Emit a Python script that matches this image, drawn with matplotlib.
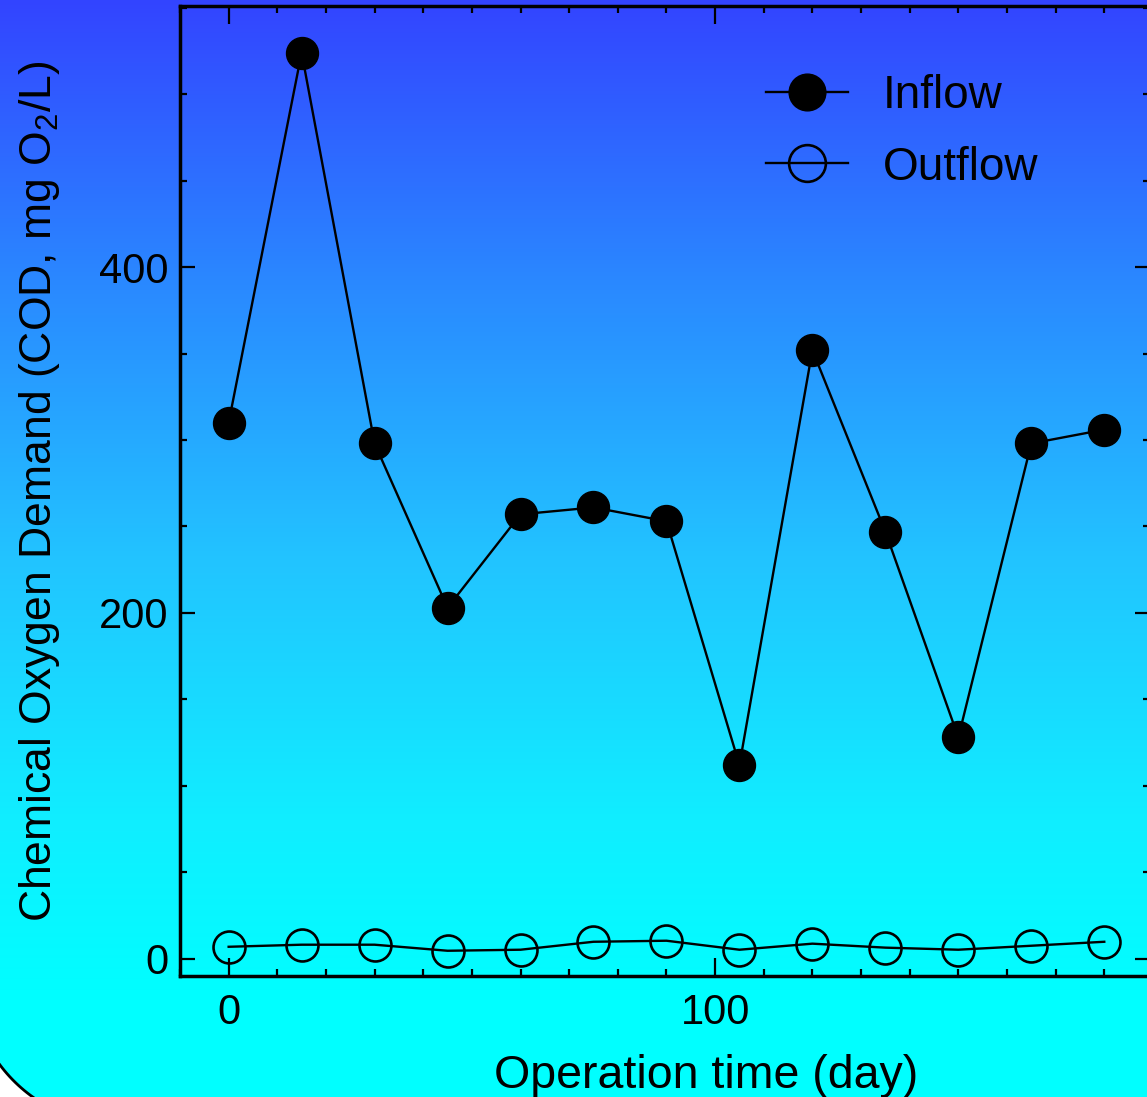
import numpy as np
import matplotlib
matplotlib.use("Agg")
import matplotlib.pyplot as plt
from matplotlib.patches import PathPatch
from matplotlib.path import Path
from matplotlib.ticker import MultipleLocator

plt.rcParams['font.family'] = ['Liberation Sans', 'DejaVu Sans']
plt.rcParams['mathtext.fontset'] = 'custom'
plt.rcParams['mathtext.rm'] = 'Liberation Sans'

# datos
dias = [0, 15, 30, 45, 60, 75, 90, 105, 120, 135, 150, 165, 180]
cod_entrada = [310, 524, 298, 203, 257, 261, 253, 112, 352, 247, 128, 298, 306]
cod_salida = [6.9, 8.1, 8.1, 4.6, 5.2, 9.8, 10.4, 5.2, 8.7, 6.4, 5.2, 7.5, 9.8]

W, H = 1147, 1097
fig = plt.figure(figsize=(W / 100, H / 100), dpi=100)
fig.patch.set_facecolor('white')

# fondo degradado con esquina redondeada (pixeles, y hacia arriba)
bg = fig.add_axes([0, 0, 1, 1], zorder=-1)
bg.axis('off')
ys = np.arange(H + 100)
stops_y = [0, 280, 560, 820, 1000]
stops_c = np.array([[0x33, 0x44, 0xFF], [0x2A, 0x88, 0xFF], [0x22, 0xC4, 0xFF],
                    [0x10, 0xEE, 0xFF], [0x00, 0xFF, 0xFF]]) / 255.0
grad = np.stack([np.interp(ys, stops_y, stops_c[:, i]) for i in range(3)], axis=1)
grad = grad[:, None, :]

x0, y0, r = -30, -28, 150
ang = np.linspace(np.pi, 1.5 * np.pi, 60)
arco = np.column_stack([x0 + r + r * np.cos(ang), y0 + r + r * np.sin(ang)])
verts = np.vstack([[[x0, 3000]], arco, [[3000, y0], [3000, 3000], [x0, 3000]]])
caja = PathPatch(Path(verts, closed=True), facecolor='none', edgecolor='black', linewidth=2)
bg.add_patch(caja)
im = bg.imshow(grad, extent=(-50, W + 50, -100, H), origin='upper', aspect='auto',
               interpolation='bilinear')
im.set_clip_path(caja)
bg.set_xlim(0, W)
bg.set_ylim(0, H)

ax = fig.add_axes([180 / W, (H - 976) / H, 970 / W, 970 / H])
ax.patch.set_alpha(0)

ax.plot(dias, cod_entrada, color='black', linewidth=1.7, marker='o', markersize=23,
        markerfacecolor='black', markeredgecolor='black', label='Inflow')
ax.plot(dias, cod_salida, color='black', linewidth=1.7, marker='o', markersize=23,
        markerfacecolor='none', markeredgecolor='black', markeredgewidth=1.9, label='Outflow')

ax.set_xlim(-10, 189.4)
ax.set_ylim(-10, 551)
ax.xaxis.set_major_locator(MultipleLocator(100))
ax.xaxis.set_minor_locator(MultipleLocator(10))
ax.yaxis.set_major_locator(MultipleLocator(200))
ax.yaxis.set_minor_locator(MultipleLocator(50))
ax.tick_params(axis='both', which='both', direction='in', top=True, right=True,
               labelsize=30, width=1.6, color='black')
ax.tick_params(axis='x', which='major', length=13, pad=12)
ax.tick_params(axis='x', which='minor', length=5)
ax.tick_params(axis='y', which='major', length=11, pad=8.6)
ax.tick_params(axis='y', which='minor', length=5)
for s in ax.spines.values():
    s.set_linewidth(2.5)

ax.set_xlabel('Operation time (day)', fontsize=33.5)
ax.xaxis.set_label_coords(0.542, -0.080)
ax.set_ylabel('Chemical Oxygen Demand (COD, mg O$_2$/L)', fontsize=32)
ax.yaxis.set_label_coords(-0.122, 0.5)

ax.legend(loc='upper left', bbox_to_anchor=(0.604, 1 - 68 / 970), frameon=False,
          fontsize=33, handlelength=1.8, handletextpad=0.76, labelspacing=0.6,
          borderaxespad=0, borderpad=0, markerscale=1.15)

fig.savefig('out.png', dpi=100)
